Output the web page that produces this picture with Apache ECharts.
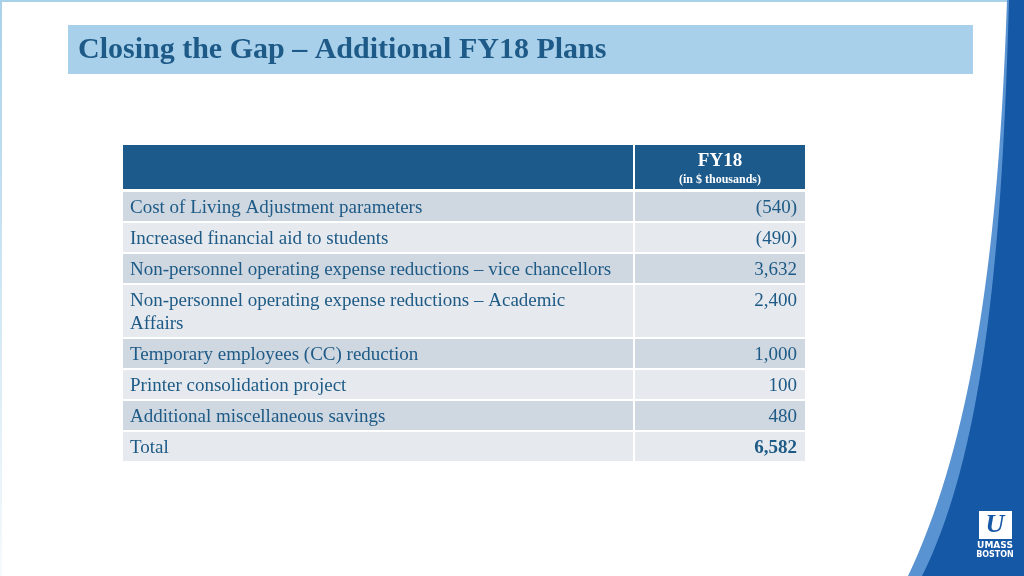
<!DOCTYPE html>
<html>
<head>
<meta charset="utf-8">
<script src="https://cdn.jsdelivr.net/npm/echarts@6/dist/echarts.min.js"></script>
<style>html,body{margin:0;padding:0;background:#fff;}#c{width:1024px;height:576px;}</style>
</head>
<body>
<div id="c"></div>
<script>
const titleText = 'Closing the Gap \u2013 Additional FY18 Plans';
const headerTitle = 'FY18';
const headerSub = '(in $ thousands)';
const categories = [
  'Cost of Living Adjustment parameters',
  'Increased financial aid to students',
  'Non-personnel operating expense reductions \u2013 vice chancellors',
  'Non-personnel operating expense reductions \u2013 Academic Affairs',
  'Temporary employees (CC) reduction',
  'Printer consolidation project',
  'Additional miscellaneous savings',
  'Total'
];
const values = [-540, -490, 3632, 2400, 1000, 100, 480, 6582];
const totalRowIndex = 7;

const SERIF = '"Liberation Serif","Times New Roman",serif';
const FONT_SIZE = 19;
const TABLE_W = 682, COL_SPLIT = 510, GAP = 2;
const LINE_H = 23, ROW_PAD = 6, HEADER_H = 44;
const TEXT_COL = '#1d5a86';

function fmt(v) {
  const s = Math.abs(v).toLocaleString('en-US');
  return v < 0 ? '(' + s + ')' : s;
}
const ctx = document.createElement('canvas').getContext('2d');
ctx.font = FONT_SIZE + 'px ' + SERIF;
function wrap(text, maxW) {
  const words = text.split(' ');
  const lines = [];
  let cur = '';
  words.forEach(w => {
    const t = cur ? cur + ' ' + w : w;
    if (ctx.measureText(t).width > maxW && cur) { lines.push(cur); cur = w; }
    else cur = t;
  });
  if (cur) lines.push(cur);
  return lines;
}
const wrapped = categories.map(c => wrap(c, COL_SPLIT - 20));
const rows = [];
let yy = HEADER_H + 3;
wrapped.forEach(lines => {
  const h = ROW_PAD + LINE_H * lines.length;
  rows.push([yy, yy + h]);
  yy += h + GAP;
});
const TABLE_H = yy - GAP;

// decorative swoosh outline (cubic bezier sampled to polygon)
function swoosh(p0, c1, c2, p3) {
  const pts = [];
  for (let i = 0; i <= 40; i++) {
    const t = i / 40, u = 1 - t;
    pts.push([
      u*u*u*p0[0] + 3*u*u*t*c1[0] + 3*u*t*t*c2[0] + t*t*t*p3[0],
      u*u*u*p0[1] + 3*u*u*t*c1[1] + 3*u*t*t*c2[1] + t*t*t*p3[1]
    ]);
  }
  pts.push([1024, 576], [1024, 0]);
  return pts;
}

const chart = echarts.init(document.getElementById('c'));
const option = {
  backgroundColor: '#ffffff',
  animation: false,
  grid: { left: 123, top: 145, width: TABLE_W, height: TABLE_H },
  xAxis: { type: 'value', min: 0, max: TABLE_W, show: false },
  yAxis: { type: 'value', min: 0, max: TABLE_H, inverse: true, show: false },
  graphic: [
    { type: 'rect', shape: { x: 0, y: 0, width: 1024, height: 2 }, style: { fill: '#a8d2ea' }, silent: true },
    { type: 'rect', shape: { x: 0, y: 0, width: 2, height: 576 },
      style: { fill: new echarts.graphic.LinearGradient(0, 0, 0, 1, [{ offset: 0, color: '#a8d2ea' }, { offset: 1, color: 'rgba(168,210,234,0.1)' }]) }, silent: true },
    { type: 'polygon', shape: { points: swoosh([1007, 0], [1000, 200], [982, 420], [908, 576]) }, style: { fill: '#5a93d2' }, silent: true },
    { type: 'polygon', shape: { points: swoosh([1009, 0], [1003, 210], [990, 440], [922, 576]) }, style: { fill: '#1558a5' }, silent: true },
    { type: 'rect', shape: { x: 979, y: 511, width: 33, height: 28 }, style: { fill: '#ffffff' }, silent: true },
    { type: 'text', x: 995, y: 525, style: { text: 'U', fill: '#1558a5', font: 'italic bold 26px ' + SERIF, align: 'center', verticalAlign: 'middle' }, silent: true },
    { type: 'text', x: 995, y: 546, style: { text: 'UMASS', fill: '#ffffff', font: 'bold 9px "DejaVu Sans",sans-serif', align: 'center', verticalAlign: 'middle' }, silent: true },
    { type: 'text', x: 995, y: 555, style: { text: 'BOSTON', fill: '#ffffff', font: 'bold 8px "DejaVu Sans",sans-serif', align: 'center', verticalAlign: 'middle' }, silent: true },
    { type: 'rect', shape: { x: 68, y: 25, width: 905, height: 49 }, style: { fill: '#a9d0ea' }, silent: true },
    { type: 'text', x: 78, y: 50, style: { text: titleText, fill: '#1d5a88', font: 'bold 30px ' + SERIF, align: 'left', verticalAlign: 'middle' }, silent: true }
  ],
  series: [{
    type: 'custom',
    silent: true,
    data: [-1].concat(categories.map((c, i) => i)),
    renderItem: function (params, api) {
      const idx = api.value(0);
      const children = [];
      if (idx < 0) {
        const p0 = api.coord([0, 0]);
        const p1 = api.coord([TABLE_W, HEADER_H]);
        const ps = api.coord([COL_SPLIT, 0]);
        children.push({ type: 'rect', shape: { x: p0[0], y: p0[1], width: ps[0] - p0[0], height: p1[1] - p0[1] }, style: { fill: '#1b5a8b' } });
        children.push({ type: 'rect', shape: { x: ps[0] + GAP, y: p0[1], width: p1[0] - ps[0] - GAP, height: p1[1] - p0[1] }, style: { fill: '#1b5a8b' } });
        const cx = (ps[0] + GAP + p1[0]) / 2;
        children.push({ type: 'text', style: { x: cx, y: p0[1] + 16, text: headerTitle, fill: '#ffffff', font: 'bold 19px ' + SERIF, align: 'center', verticalAlign: 'middle' } });
        children.push({ type: 'text', style: { x: cx, y: p0[1] + 35, text: headerSub, fill: '#ffffff', font: 'bold 12px ' + SERIF, align: 'center', verticalAlign: 'middle' } });
        return { type: 'group', children: children };
      }
      const r = rows[idx];
      const p0 = api.coord([0, r[0]]);
      const p1 = api.coord([TABLE_W, r[1]]);
      const ps = api.coord([COL_SPLIT, r[0]]);
      const fill = idx % 2 === 0 ? '#cfd7e0' : '#e6e9ee';
      children.push({ type: 'rect', shape: { x: p0[0], y: p0[1], width: ps[0] - p0[0], height: p1[1] - p0[1] }, style: { fill: fill } });
      children.push({ type: 'rect', shape: { x: ps[0] + GAP, y: p0[1], width: p1[0] - ps[0] - GAP, height: p1[1] - p0[1] }, style: { fill: fill } });
      wrapped[idx].forEach((line, k) => {
        children.push({ type: 'text', style: { x: p0[0] + 7, y: p0[1] + 16 + k * LINE_H, text: line, fill: TEXT_COL, font: FONT_SIZE + 'px ' + SERIF, align: 'left', verticalAlign: 'middle' } });
      });
      const bold = idx === totalRowIndex ? 'bold ' : '';
      children.push({ type: 'text', style: { x: p1[0] - 8, y: p0[1] + 16, text: fmt(values[idx]), fill: TEXT_COL, font: bold + FONT_SIZE + 'px ' + SERIF, align: 'right', verticalAlign: 'middle' } });
      return { type: 'group', children: children };
    }
  }]
};
chart.setOption(option);
</script>
</body>
</html>
